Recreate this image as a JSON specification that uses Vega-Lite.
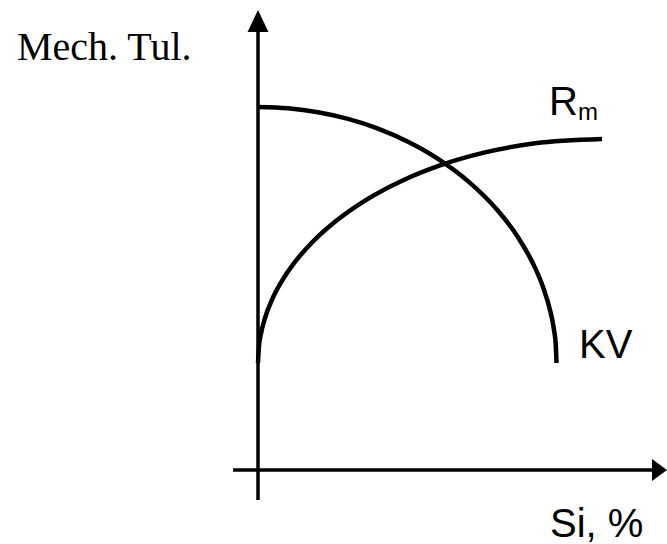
{
  "$schema": "https://vega.github.io/schema/vega-lite/v6.json",
  "width": 667,
  "height": 544,
  "padding": 0,
  "autosize": {"type": "none"},
  "background": "white",
  "config": {"view": {"stroke": null}},
  "layer": [
    {
      "data": {"values": [
        {"axis": "x", "x1": -2.5, "x2": 39.4, "y1": 0, "y2": 0},
        {"axis": "y", "x1": 0, "x2": 0, "y1": -3.0, "y2": 43.8}
      ]},
      "mark": {"type": "rule", "color": "black", "strokeWidth": 3.5},
      "encoding": {
        "x": {"field": "x1", "type": "quantitative", "scale": {"domain": [-25.8, 40.9], "nice": false, "zero": false}, "axis": null},
        "x2": {"field": "x2"},
        "y": {"field": "y1", "type": "quantitative", "scale": {"domain": [-7.4, 47.0], "nice": false, "zero": false}, "axis": null},
        "y2": {"field": "y2"}
      }
    },
    {
      "data": {"values": [
        {"curve": "KV", "si": 0.0, "v": 36.3},
        {"curve": "KV", "si": 3.0, "v": 36.17},
        {"curve": "KV", "si": 6.0, "v": 35.78},
        {"curve": "KV", "si": 9.0, "v": 35.11},
        {"curve": "KV", "si": 12.0, "v": 34.14},
        {"curve": "KV", "si": 15.0, "v": 32.83},
        {"curve": "KV", "si": 18.0, "v": 31.12},
        {"curve": "KV", "si": 21.0, "v": 28.89},
        {"curve": "KV", "si": 24.0, "v": 25.92},
        {"curve": "KV", "si": 26.0, "v": 23.28},
        {"curve": "KV", "si": 27.5, "v": 20.65},
        {"curve": "KV", "si": 28.5, "v": 18.31},
        {"curve": "KV", "si": 29.2, "v": 16.01},
        {"curve": "KV", "si": 29.6, "v": 14.01},
        {"curve": "KV", "si": 29.78, "v": 12.45},
        {"curve": "KV", "si": 29.85, "v": 10.7},
        {"curve": "Rm", "si": 0.0, "v": 10.7},
        {"curve": "Rm", "si": 0.1, "v": 12.41},
        {"curve": "Rm", "si": 0.3, "v": 13.65},
        {"curve": "Rm", "si": 0.7, "v": 15.2},
        {"curve": "Rm", "si": 1.4, "v": 17.03},
        {"curve": "Rm", "si": 2.4, "v": 18.92},
        {"curve": "Rm", "si": 3.7, "v": 20.81},
        {"curve": "Rm", "si": 5.4, "v": 22.75},
        {"curve": "Rm", "si": 7.7, "v": 24.82},
        {"curve": "Rm", "si": 10.7, "v": 26.94},
        {"curve": "Rm", "si": 14.2, "v": 28.83},
        {"curve": "Rm", "si": 18.2, "v": 30.46},
        {"curve": "Rm", "si": 22.7, "v": 31.76},
        {"curve": "Rm", "si": 27.7, "v": 32.67},
        {"curve": "Rm", "si": 34.4, "v": 33.1}
      ]},
      "mark": {"type": "line", "color": "black", "strokeWidth": 4.5, "interpolate": "monotone", "strokeCap": "butt"},
      "encoding": {
        "x": {"field": "si", "type": "quantitative", "axis": null},
        "y": {"field": "v", "type": "quantitative", "axis": null},
        "detail": {"field": "curve"}
      }
    },
    {
      "data": {"values": [{"x": 40.15, "y": 0}]},
      "mark": {"type": "point", "shape": "M1,0L-1,-1.47L-1,1.47Z", "size": 225, "filled": true, "color": "black", "opacity": 1},
      "encoding": {
        "x": {"field": "x", "type": "quantitative", "axis": null},
        "y": {"field": "y", "type": "quantitative", "axis": null}
      }
    },
    {
      "data": {"values": [{"x": 0, "y": 44.9}]},
      "mark": {"type": "point", "shape": "M0,-1L-0.95,1L0.95,1Z", "size": 484, "filled": true, "color": "black", "opacity": 1},
      "encoding": {
        "x": {"field": "x", "type": "quantitative", "axis": null},
        "y": {"field": "y", "type": "quantitative", "axis": null}
      }
    },
    {
      "data": {"values": [{"x": -24.1, "y": 41.0, "t": "Mech. Tul."}]},
      "mark": {"type": "text", "font": "Liberation Serif", "fontSize": 40, "align": "left", "baseline": "alphabetic", "color": "black"},
      "encoding": {
        "x": {"field": "x", "type": "quantitative", "axis": null},
        "y": {"field": "y", "type": "quantitative", "axis": null},
        "text": {"field": "t"}
      }
    },
    {
      "data": {"values": [
        {"x": 29.1, "y": 35.5, "t": "R"},
        {"x": 32.1, "y": 11.2, "t": "KV"},
        {"x": 29.2, "y": -6.7, "t": "Si, %"}
      ]},
      "mark": {"type": "text", "font": "Liberation Sans", "fontSize": 40, "align": "left", "baseline": "alphabetic", "color": "black"},
      "encoding": {
        "x": {"field": "x", "type": "quantitative", "axis": null},
        "y": {"field": "y", "type": "quantitative", "axis": null},
        "text": {"field": "t"}
      }
    },
    {
      "data": {"values": [{"x": 32.0, "y": 35.0, "t": "m"}]},
      "mark": {"type": "text", "font": "Liberation Sans", "fontSize": 24, "align": "left", "baseline": "alphabetic", "color": "black"},
      "encoding": {
        "x": {"field": "x", "type": "quantitative", "axis": null},
        "y": {"field": "y", "type": "quantitative", "axis": null},
        "text": {"field": "t"}
      }
    }
  ]
}
